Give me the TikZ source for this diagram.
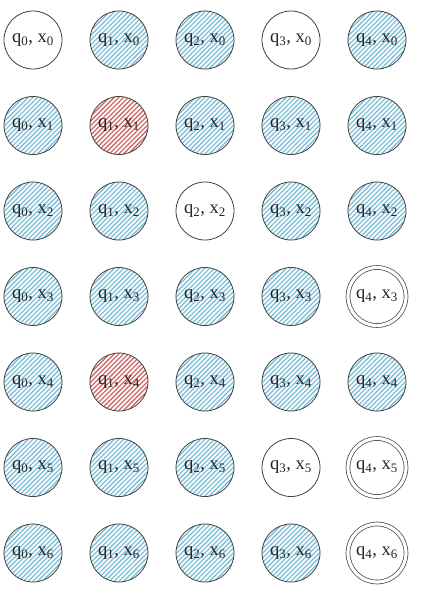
\documentclass[tikz,border=0pt]{standalone}
\usepackage{fontspec}
\setmainfont{Liberation Serif}
\usetikzlibrary{shapes.geometric,calc}
\definecolor{hblue}{HTML}{7FC0D8}
\definecolor{hred}{HTML}{D06A6A}
\definecolor{edge}{HTML}{404040}
\tikzset{
  st/.style={circle, draw=edge, line width=0.8pt, minimum size=58pt,
    inner sep=0pt, font=\fontsize{18.5}{18.5}\selectfont, text=black!85},
  hatch/.style={path picture={
    \foreach \k in {-16,...,16}{
      \draw[#1, line width=1.3pt] ($(path picture bounding box.center)+(\k*4.7pt-40pt,-40pt)$) -- ++(80pt,80pt);
    }}},
  blue/.style={st, hatch=hblue},
  red/.style={st, hatch=hred},
  white/.style={st},
  dbl/.style={st, double=white, double distance=3.2pt, line width=0.7pt}
}
\newcommand{\lbl}[2]{q\textsubscript{#1}, x\textsubscript{#2}}
\begin{document}
\begin{tikzpicture}[x=1pt,y=-1pt]
\useasboundingbox (0,0) rectangle (432,611);
% row 0
\node[white] (n00) at (33,40) {\lbl00};
\node[blue]  (n10) at (119,40) {\lbl10};
\node[blue]  (n20) at (205,40) {\lbl20};
\node[white] (n30) at (291,40) {\lbl30};
\node[blue]  (n40) at (377,40) {\lbl40};
% row 1
\node[blue]  (n01) at (33,125.5) {\lbl01};
\node[red]   (n11) at (119,125.5) {\lbl11};
\node[blue]  (n21) at (205,125.5) {\lbl21};
\node[blue]  (n31) at (291,125.5) {\lbl31};
\node[blue]  (n41) at (377,125.5) {\lbl41};
% row 2
\node[blue]  (n02) at (33,211) {\lbl02};
\node[blue]  (n12) at (119,211) {\lbl12};
\node[white] (n22) at (205,211) {\lbl22};
\node[blue]  (n32) at (291,211) {\lbl32};
\node[blue]  (n42) at (377,211) {\lbl42};
% row 3
\node[blue]  (n03) at (33,296.5) {\lbl03};
\node[blue]  (n13) at (119,296.5) {\lbl13};
\node[blue]  (n23) at (205,296.5) {\lbl23};
\node[blue]  (n33) at (291,296.5) {\lbl33};
\node[dbl]   (n43) at (377,296.5) {\lbl43};
% row 4
\node[blue]  (n04) at (33,382) {\lbl04};
\node[red]   (n14) at (119,382) {\lbl14};
\node[blue]  (n24) at (205,382) {\lbl24};
\node[blue]  (n34) at (291,382) {\lbl34};
\node[blue]  (n44) at (377,382) {\lbl44};
% row 5
\node[blue]  (n05) at (33,467.5) {\lbl05};
\node[blue]  (n15) at (119,467.5) {\lbl15};
\node[blue]  (n25) at (205,467.5) {\lbl25};
\node[white] (n35) at (291,467.5) {\lbl35};
\node[dbl]   (n45) at (377,467.5) {\lbl45};
% row 6
\node[blue]  (n06) at (33,553) {\lbl06};
\node[blue]  (n16) at (119,553) {\lbl16};
\node[blue]  (n26) at (205,553) {\lbl26};
\node[blue]  (n36) at (291,553) {\lbl36};
\node[dbl]   (n46) at (377,553) {\lbl46};
\end{tikzpicture}
\end{document}
